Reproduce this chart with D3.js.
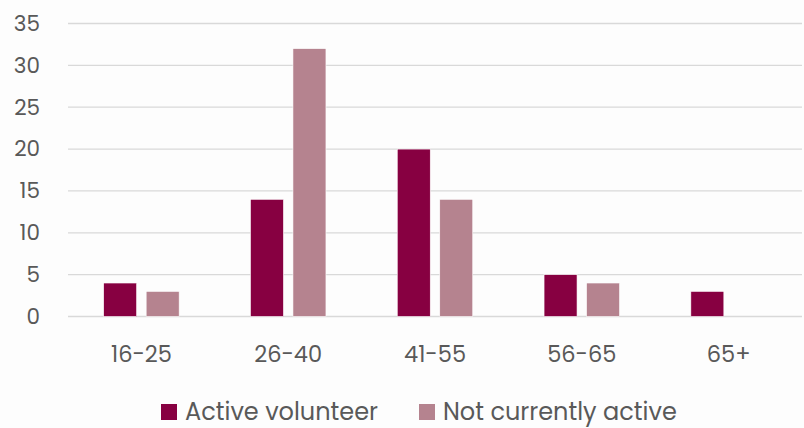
<!DOCTYPE html>
<html>
<head>
<meta charset="utf-8">
<script src="https://cdn.jsdelivr.net/npm/d3@7"></script>
<style>
  html, body { margin: 0; padding: 0; background: #fdfdfd; }
  svg { display: block; }
  text { font-family: "Poppins", "Noto Sans", "Open Sans", sans-serif; fill: #595959; }
</style>
</head>
<body>
<svg id="chart" width="804" height="428"></svg>
<script>
// Age groups and counts per volunteer status
const categories = ["16-25", "26-40", "41-55", "56-65", "65+"];
const seriesNames = ["Active volunteer", "Not currently active"];
const activeVolunteer = [4, 14, 20, 5, 3];
const notCurrentlyActive = [3, 32, 14, 4, 0];
const yTicks = [0, 5, 10, 15, 20, 25, 30, 35];
const colors = ["#870041", "#b5838f"];

const svg = d3.select("#chart");
const W = 804, H = 428;
const margin = { top: 23.5, right: 2, bottom: 111.5, left: 68 };
const innerW = W - margin.left - margin.right;
const innerH = H - margin.top - margin.bottom;

const g = svg.append("g").attr("transform", `translate(${margin.left},${margin.top})`);

const x = d3.scaleBand().domain(categories).range([0, innerW]).paddingInner(0).paddingOuter(0);
const y = d3.scaleLinear().domain([0, 35]).range([innerH, 0]);

// horizontal gridlines
g.selectAll("line.grid").data(yTicks).join("line")
  .attr("class", "grid")
  .attr("x1", 0).attr("x2", innerW)
  .attr("y1", d => y(d)).attr("y2", d => y(d))
  .attr("stroke", "#d9d9d9").attr("stroke-width", 1.3);

// y-axis labels
const yAxis = d3.axisLeft(y).tickValues(yTicks).tickSize(0).tickPadding(28);
const ya = g.append("g").call(yAxis);
ya.select(".domain").remove();
ya.selectAll("text").attr("font-size", 21.5).style("fill", "#595959");

// x-axis labels
const xAxis = d3.axisBottom(x).tickSize(0).tickPadding(29.5);
const xa = g.append("g").attr("transform", `translate(0,${innerH})`).call(xAxis);
xa.select(".domain").remove();
xa.selectAll("text").attr("font-size", 22.5).style("fill", "#595959");

// grouped bars
const barW = 33, gap = 9.5;
const series = [activeVolunteer, notCurrentlyActive];
series.forEach((vals, si) => {
  g.selectAll(`rect.s${si}`).data(vals.map((v, i) => ({ v, c: categories[i] }))).join("rect")
    .attr("class", `s${si}`)
    .attr("x", d => x(d.c) + x.bandwidth() / 2 + (si === 0 ? -(barW + gap / 2) : gap / 2))
    .attr("width", barW)
    .attr("y", d => y(d.v))
    .attr("height", d => y(0) - y(d.v))
    .attr("fill", colors[si])
    .attr("stroke", d => d.v > 0 ? "#ffffff" : "none")
    .attr("stroke-width", 0.6);
});

// legend
const legend = svg.append("g").attr("transform", "translate(0,412)");
const legendX = [161, 419];
seriesNames.forEach((name, i) => {
  const item = legend.append("g").attr("transform", `translate(${legendX[i]},0)`);
  item.append("rect").attr("x", 0).attr("y", -8).attr("width", 16).attr("height", 16).attr("fill", colors[i]);
  item.append("text").attr("x", 24).attr("y", 0).attr("dy", "0.35em")
    .attr("font-size", 24).text(name);
});
</script>
</body>
</html>
